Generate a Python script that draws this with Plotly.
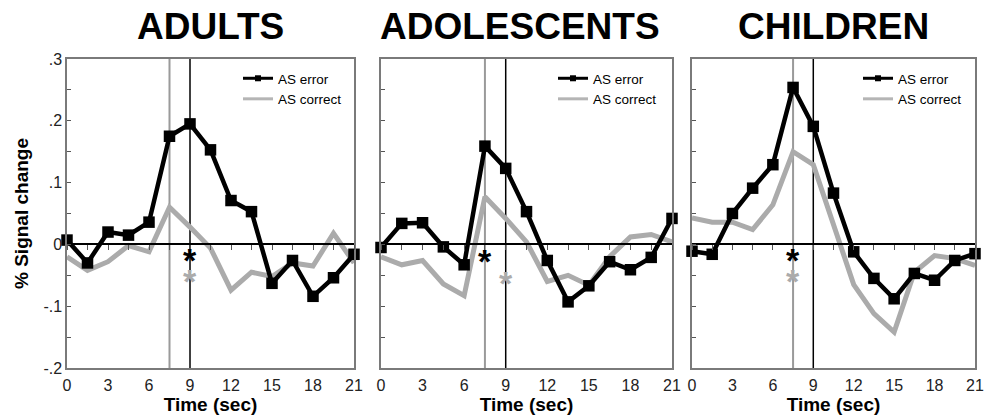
import plotly.graph_objects as go

# ---------------- data ----------------
time_sec = [0, 1.5, 3, 4.5, 6, 7.5, 9, 10.5, 12, 13.5, 15, 16.5, 18, 19.5, 21]
groups = ["ADULTS", "ADOLESCENTS", "CHILDREN"]

adults_error = [0.007, -0.030, 0.020, 0.015, 0.036, 0.175, 0.195, 0.153, 0.071, 0.053,
                -0.063, -0.026, -0.084, -0.054, -0.016]
adults_correct = [-0.020, -0.042, -0.028, -0.002, -0.012, 0.060, 0.028, -0.006, -0.074, -0.045,
                  -0.052, -0.030, -0.035, 0.018, -0.030]

adolescents_error = [-0.005, 0.034, 0.035, -0.004, -0.033, 0.159, 0.123, 0.053, -0.026, -0.093,
                     -0.067, -0.028, -0.041, -0.021, 0.042]
adolescents_correct = [-0.020, -0.033, -0.026, -0.064, -0.083, 0.077, 0.042, 0.004, -0.060, -0.050,
                       -0.066, -0.020, 0.012, 0.016, 0.004]

children_error = [-0.011, -0.016, 0.050, 0.091, 0.129, 0.254, 0.191, 0.083, -0.012, -0.055,
                  -0.088, -0.047, -0.058, -0.026, -0.015]
children_correct = [0.043, 0.036, 0.036, 0.024, 0.064, 0.150, 0.129, 0.035, -0.065, -0.112,
                    -0.142, -0.045, -0.018, -0.023, -0.034]

error_series = [adults_error, adolescents_error, children_error]
correct_series = [adults_correct, adolescents_correct, children_correct]

# asterisks (significance markers)
star_black_t = [9, 7.5, 7.5]
star_black_y = [-0.020, -0.022, -0.020]
star_gray_t = [9, 9, 7.5]
star_gray_y = [-0.055, -0.058, -0.055]

# vertical reference lines (sec)
gray_line_t = 7.5
black_line_t = 9

x_tick_vals = [0, 3, 6, 9, 12, 15, 18, 21]
y_tick_vals = [-0.2, -0.1, 0, 0.1, 0.2, 0.3]
y_tick_text = ["-.2", "-.1", "0", ".1", ".2", ".3"]
y_range = [-0.2, 0.3]
x_range = [0, 21]

# ---------------- style ----------------
FONT = "Liberation Sans, Arial, sans-serif"
BLACK = "#000000"
GRAY = "#ababab"
FRAME = "#7a7a7a"
W, H = 986, 420
ML, MR, MT, MB = 67, 11, 59, 52
PW = W - ML - MR
PH = H - MT - MB
domains_px = [(67, 354), (381, 672), (692, 975)]
domains = [[(a - ML) / PW, (b - ML) / PW] for a, b in domains_px]
legend_px = [238, 553, 858]
legend_top = 63
title_shift = [0, -7, 0]

fig = go.Figure()
zero_pos = (0 - y_range[0]) / (y_range[1] - y_range[0])

for i in range(3):
    n = i + 1
    xs = "" if n == 1 else str(n)
    xa, ya = "x" + xs, "y" + xs
    xo = "x" + str(n + 3)
    lg = "legend" if n == 1 else "legend" + str(n)

    # gray (correct) line on the framed, labelled axis
    fig.add_trace(go.Scatter(x=time_sec, y=correct_series[i], mode="lines",
                             line=dict(color=GRAY, width=5), xaxis=xa, yaxis=ya,
                             showlegend=False, hoverinfo="skip"))
    # black (error) line with square markers on the zero-line axis (same scale)
    fig.add_trace(go.Scatter(x=time_sec, y=error_series[i], mode="lines+markers",
                             line=dict(color=BLACK, width=4.5),
                             marker=dict(symbol="square", size=11.5, color=BLACK),
                             cliponaxis=False, xaxis=xo, yaxis=ya,
                             showlegend=False, hoverinfo="skip"))
    # legend-only entries
    fig.add_trace(go.Scatter(x=[None], y=[None], mode="lines+markers", name="AS error",
                             line=dict(color=BLACK, width=3),
                             marker=dict(symbol="square", size=6, color=BLACK),
                             xaxis=xa, yaxis=ya, legend=lg))
    fig.add_trace(go.Scatter(x=[None], y=[None], mode="lines", name="AS correct",
                             line=dict(color="#b5b5b5", width=3),
                             xaxis=xa, yaxis=ya, legend=lg))

    # asterisks
    fig.add_annotation(x=star_black_t[i], y=star_black_y[i], xref=xo, yref=ya, text="*",
                       showarrow=False, xanchor="center", yanchor="middle", yshift=-3,
                       font=dict(size=34, color=BLACK, family=FONT, weight="bold"))
    fig.add_annotation(x=star_gray_t[i], y=star_gray_y[i], xref=xo, yref=ya, text="*",
                       showarrow=False, xanchor="center", yanchor="middle", yshift=-3,
                       font=dict(size=34, color=GRAY, family=FONT, weight="bold"))

    # vertical lines
    fig.add_shape(type="line", xref=xa, yref=ya + " domain", x0=gray_line_t, x1=gray_line_t,
                  y0=0, y1=1, line=dict(color="#9a9a9a", width=2), layer="below")
    fig.add_shape(type="line", xref=xa, yref=ya + " domain", x0=black_line_t, x1=black_line_t,
                  y0=0, y1=1, line=dict(color=BLACK, width=1.5), layer="below")

    # framed bottom axis with labels
    fig.layout["xaxis" + xs] = dict(
        domain=domains[i], range=x_range, anchor=ya, side="bottom", automargin=False,
        showline=True, linecolor=FRAME, linewidth=1.5, mirror=True,
        ticks="", tickvals=x_tick_vals, ticktext=[str(v) for v in x_tick_vals],
        ticklabelstandoff=2,
        tickfont=dict(family=FONT, size=16, color="#222"),
        showgrid=False, zeroline=False, fixedrange=True,
        title=dict(text="Time (sec)", standoff=5,
                   font=dict(family=FONT, size=19, color=BLACK, weight="bold")))
    # overlay x axis drawn as the zero line with ticks every 1.5 s
    fig.layout["xaxis" + str(n + 3)] = dict(
        domain=domains[i], range=x_range, overlaying=xa, anchor="free", position=zero_pos,
        automargin=False,
        showline=True, linecolor=BLACK, linewidth=1.5,
        ticks="outside", ticklen=5, tickcolor="#555", tickwidth=1,
        tick0=0, dtick=1.5, showticklabels=False, showgrid=False, zeroline=False,
        fixedrange=True)
    fig.layout["yaxis" + xs] = dict(
        domain=[0, 1], range=y_range, anchor=xa, automargin=False,
        showline=True, linecolor=FRAME, linewidth=1.5, mirror=True,
        ticks="inside", ticklen=4, tickcolor="#555",
        tickvals=y_tick_vals, ticktext=y_tick_text,
        showticklabels=(n == 1),
        minor=dict(ticks="inside", ticklen=4, dtick=0.05, tick0=0, tickcolor="#555"),
        tickfont=dict(family=FONT, size=16, color="#222"),
        showgrid=False, zeroline=False, fixedrange=True,
        title=dict(text="% Signal change" if n == 1 else "", standoff=10,
                   font=dict(family=FONT, size=19, color=BLACK, weight="bold")))

    fig.layout[lg] = dict(
        x=(legend_px[i] - ML) / PW, xanchor="left",
        y=(H - MB - legend_top) / PH, yanchor="top",
        bgcolor="rgba(0,0,0,0)", borderwidth=0, tracegroupgap=0,
        font=dict(family=FONT, size=13.5, color=BLACK), itemwidth=30)

    fig.add_annotation(text=groups[i], xref=xa + " domain", yref="paper", x=0.5, y=1,
                       xshift=title_shift[i], yanchor="bottom", yshift=10, showarrow=False,
                       font=dict(family=FONT, size=37, color=BLACK, weight="bold"))

fig.update_layout(width=W, height=H, margin=dict(l=ML, r=MR, t=MT, b=MB, autoexpand=False),
                  paper_bgcolor="white", plot_bgcolor="white",
                  font=dict(family=FONT), hovermode=False)

fig.write_html("out.html", config={"displayModeBar": False},
               post_script="document.body.style.margin='0';")
